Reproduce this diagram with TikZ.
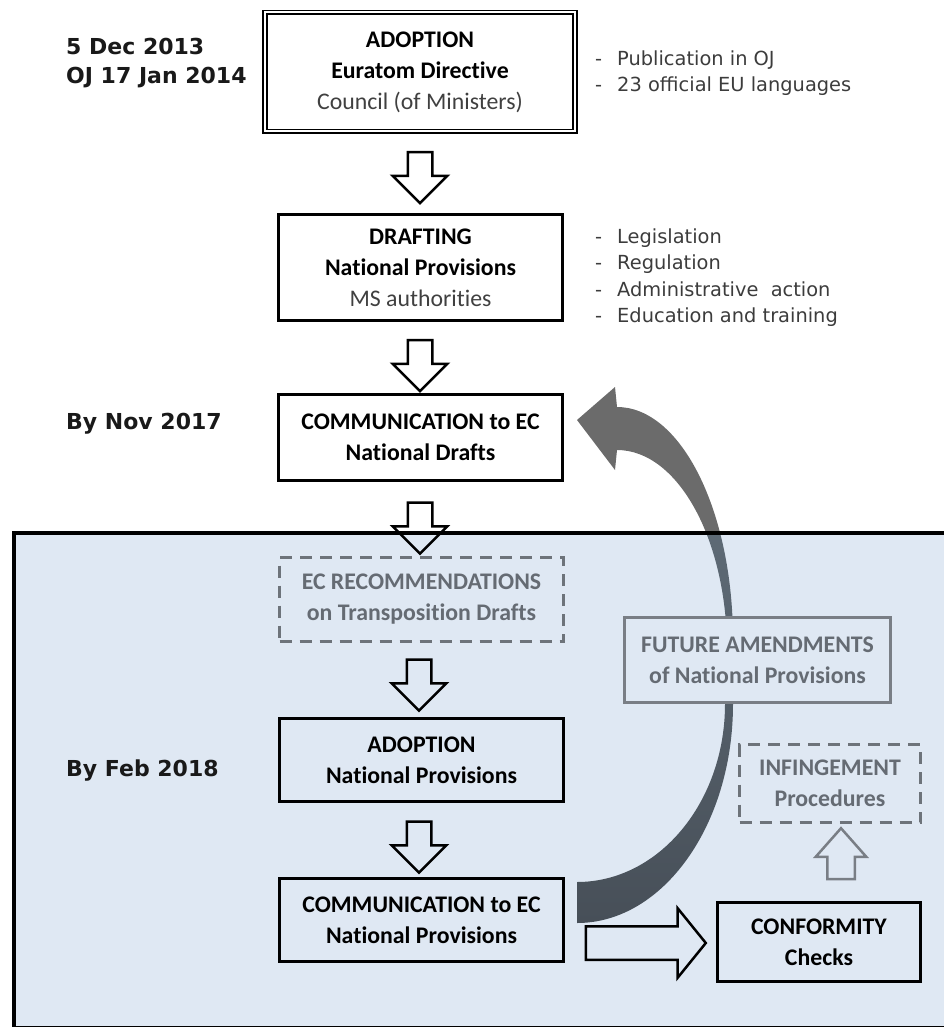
\documentclass[tikz,border=0pt]{standalone}
\usepackage{fontspec}
\setmainfont{Carlito}[Ligatures=NoCommon]
\newfontfamily\labelfamily{DejaVu Sans}
\usepackage{tikz}
\usetikzlibrary{shapes.arrows}

\definecolor{boxblue}{HTML}{DFE8F3}
\definecolor{softgray}{HTML}{656B73}
\definecolor{dashgray}{HTML}{6D737A}
\definecolor{framegray}{HTML}{797E85}
\definecolor{bandgray}{HTML}{6B6B6B}
\definecolor{notegray}{HTML}{3C3C3C}
\definecolor{subgray}{HTML}{404040}

\newcommand{\boxfont}{\fontsize{23.8}{31}\selectfont}
\newcommand{\datefont}{\labelfamily\bfseries\fontsize{22}{29}\selectfont}
\newcommand{\notefont}{\labelfamily\fontsize{19.4}{26.5}\selectfont}
\newcommand{\itm}{\makebox[22pt][l]{-}}
\newcommand{\bandpath}{(577,923) .. controls (663,923) and (733,825) .. (733,704) -- (733,640)
  .. controls (733,511) and (681,407) .. (617,407) -- (615,387) -- (577,420) -- (615,470) -- (617,450)
  .. controls (678,450) and (727,540) .. (727,650) -- (725,704)
  .. controls (725,802) and (659,882) .. (577,882) -- cycle}

\begin{document}
\begin{tikzpicture}[x=1pt,y=-1pt,
    stagebox/.style={draw, line width=3pt, align=center, font=\boxfont, text=black,
      minimum width=284, inner sep=0},
    dashbox/.style={stagebox, draw=dashgray, line width=2.5pt, dash pattern=on 12pt off 8pt,
      text=softgray},
    softbox/.style={stagebox, draw=framegray, fill=boxblue, text=softgray},
    datelabel/.style={font=\datefont, text=black!90, align=left, inner sep=0},
    notes/.style={font=\notefont, text=notegray, align=left, inner sep=0},
    blockarrow/.style={single arrow, draw, line width=2.5pt, inner xsep=0, inner ysep=11,
      single arrow head extend=15, minimum height=51, minimum width=52},
    downarrow/.style={blockarrow, rotate=-90},
    rightarrow/.style={blockarrow, inner ysep=15.5, single arrow head extend=18,
      minimum height=120, minimum width=67, single arrow tip angle=102},
    uparrow/.style={blockarrow, rotate=90, draw=framegray, inner ysep=12.5,
      single arrow head extend=11.5, minimum height=51, minimum width=48, single arrow tip angle=83}]
  \clip (0,0) rectangle (944,1027);
  % shaded area
  \fill[boxblue] (14,533) rectangle (960,1027.5);
  % curved arrow
  \begin{scope}
    \clip (0,0) rectangle (944,533);
    \fill[bandgray] \bandpath;
  \end{scope}
  \begin{scope}
    \clip (0,533) rectangle (944,1027);
    \shade[top color={rgb,255:red,102;green,116;blue,128}, bottom color={rgb,255:red,71;green,79;blue,88}] \bandpath;
  \end{scope}
  \draw[line width=4pt] (14,533) rectangle (960,1027.5);
  % dates
  \node[datelabel, anchor=north west] (dec) at (66,38) {5 Dec 2013\\OJ 17 Jan 2014};
  \node[datelabel, anchor=base west] (nov) at (66,429) {By Nov 2017};
  \node[datelabel, anchor=base west] (feb) at (66,776) {By Feb 2018};
  % boxes
  \node[stagebox, double=white, double distance=2pt, line width=1.8pt, minimum width=310,
    minimum height=119] (adopt) at (420,72)
    {\textbf{ADOPTION}\\\textbf{Euratom Directive}\\\textcolor{subgray}{Council (of Ministers)}};
  \node[stagebox, minimum height=106] (draft) at (420.5,267.5)
    {\textbf{DRAFTING}\\\textbf{National Provisions}\\\textcolor{subgray}{MS authorities}};
  \node[stagebox, minimum height=86] (comm) at (420.5,437.5)
    {\textbf{COMMUNICATION to EC}\\\textbf{National Drafts}};
  \node[dashbox, minimum height=84] (recom) at (421.5,599.5)
    {\textbf{EC RECOMMENDATIONS}\\\textbf{on Transposition Drafts}};
  \node[stagebox, minimum height=83] (adoptnp) at (421.5,760)
    {\textbf{ADOPTION}\\\textbf{National Provisions}};
  \node[stagebox, minimum height=83] (commnp) at (421.5,920)
    {\textbf{COMMUNICATION to EC}\\\textbf{National Provisions}};
  \node[softbox, minimum width=266, minimum height=85] (future) at (757.5,660)
    {\textbf{FUTURE AMENDMENTS}\\\textbf{of National Provisions}};
  \node[dashbox, minimum width=181, minimum height=78] (infr) at (830,783.5)
    {\textbf{INFINGEMENT}\\\textbf{Procedures}};
  \node[stagebox, minimum width=203, minimum height=79] (conf) at (819,942)
    {\textbf{CONFORMITY}\\\textbf{Checks}};
  % notes
  \node[notes, anchor=north west] (pubnotes) at (595,50.5)
    {\itm Publication in OJ\\\itm 23 official EU languages};
  \node[notes, anchor=north west] (draftnotes) at (595,228.5)
    {\itm Legislation\\\itm Regulation\\\itm Administrative\ \ action\\\itm Education and training};
  % block arrows
  \node[downarrow] (a1) at (420,171.5) {};
  \node[downarrow] (a2) at (420,359.5) {};
  \node[downarrow] (a3) at (420,522) {};
  \node[downarrow] (a4) at (419,679) {};
  \node[downarrow] (a5) at (419,841) {};
  \node[rightarrow] (a6) at (639,943) {};
  \node[uparrow] (a7) at (841,861.5) {};
\end{tikzpicture}
\end{document}
